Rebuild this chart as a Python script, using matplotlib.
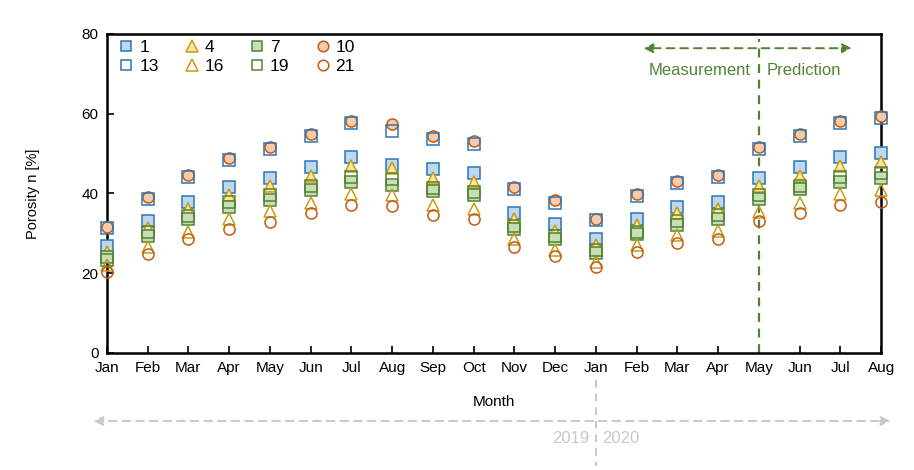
import numpy as np
import matplotlib.pyplot as plt

plt.rcParams['font.family'] = ['Liberation Sans', 'DejaVu Sans']

months = ['Jan', 'Feb', 'Mar', 'Apr', 'May', 'Jun', 'Jul', 'Aug', 'Sep', 'Oct', 'Nov', 'Dec',
          'Jan', 'Feb', 'Mar', 'Apr', 'May', 'Jun', 'Jul', 'Aug']

# porosity per series (label = depth / sample id)
s1 = [26.9, 33.2, 37.9, 41.7, 43.9, 46.7, 49.2, 47.1, 46.1, 45.0, 35.2, 32.3,
      28.6, 33.7, 36.7, 37.9, 43.9, 46.7, 49.2, 50.2]
s4 = [25.4, 31.4, 36.0, 39.6, 41.9, 44.4, 46.9, 46.3, 43.8, 42.9, 33.5, 30.7,
      27.1, 32.1, 35.0, 36.2, 41.9, 44.4, 46.9, 47.9]
s7 = [24.1, 29.3, 33.6, 36.7, 38.3, 40.9, 42.9, 42.1, 40.7, 39.6, 31.0, 28.6,
      25.0, 29.7, 32.1, 33.5, 38.7, 41.0, 42.9, 43.9]
s10 = [31.6, 39.1, 44.7, 49.0, 51.7, 55.0, 58.1, 57.4, 54.5, 53.1, 41.5, 38.3,
       33.7, 39.8, 43.1, 44.6, 51.7, 55.0, 58.1, 59.5]
s13 = [31.4, 38.7, 44.2, 48.4, 51.1, 54.5, 57.6, 55.7, 53.6, 52.4, 41.1, 37.7,
       33.3, 39.3, 42.7, 44.2, 51.1, 54.5, 57.6, 58.8]
s16 = [22.0, 26.6, 30.4, 33.7, 35.7, 37.7, 39.8, 39.6, 37.1, 36.2, 28.5, 25.8,
       22.9, 27.1, 29.6, 30.6, 35.4, 37.7, 39.8, 40.9]
s19 = [23.3, 30.3, 34.4, 37.9, 39.6, 41.9, 44.2, 43.5, 41.3, 40.4, 31.8, 29.2,
       25.8, 30.4, 33.2, 34.6, 39.7, 41.9, 44.2, 45.2]
s21 = [20.2, 24.8, 28.5, 31.2, 32.9, 35.0, 37.0, 36.8, 34.6, 33.7, 26.5, 24.3,
       21.5, 25.4, 27.5, 28.5, 33.1, 35.0, 37.0, 37.9]

blue, blue_f = '#2E75B6', '#BDD7EE'
gold, gold_f = '#C89B14', '#FFE699'
green, green_f = '#548235', '#C5E0B4'
orange, orange_f = '#C55A11', '#F8CBAD'

series = [
    ('1', s1, 's', blue, blue_f),
    ('4', s4, '^', gold, gold_f),
    ('7', s7, 's', green, green_f),
    ('10', s10, 'o', orange, orange_f),
    ('13', s13, 's', blue, 'none'),
    ('16', s16, '^', gold, 'none'),
    ('19', s19, 's', green, 'none'),
    ('21', s21, 'o', orange, 'none'),
]

fig = plt.figure(figsize=(9.14, 4.70), dpi=100)
ax = fig.add_axes([0.117, 0.249, 0.847, 0.679])

x = np.arange(len(months))
handles = []
for lab, vals, mk, ec, fc in series:
    ms = 8 if mk != '^' else 8.5
    h, = ax.plot(x, vals, linestyle='none', marker=mk, markersize=ms,
                 markeredgecolor=ec, markerfacecolor=fc, markeredgewidth=1.1,
                 label=lab, clip_on=False, zorder=3)
    handles.append(h)

ax.set_xlim(0, 19)
ax.set_ylim(0, 80)
ax.set_yticks([0, 20, 40, 60, 80])
ax.set_xticks(x)
ax.set_xticklabels(months)
ax.tick_params(direction='in', length=5, width=1.2, labelsize=11, pad=6)
for sp in ax.spines.values():
    sp.set_linewidth(1.8)
ax.set_ylabel('Porosity n [%]', fontsize=10.5, labelpad=30)
ax.set_xlabel('Month', fontsize=11, labelpad=14)

# legend rows: 1 4 7 10 / 13 16 19 21 (matplotlib fills column by column)
order = [0, 4, 1, 5, 2, 6, 3, 7]
ax.legend([handles[i] for i in order], [series[i][0] for i in order],
          ncol=4, loc='upper left', frameon=False, fontsize=12.5,
          bbox_to_anchor=(-0.012, 1.03), handletextpad=0.0,
          columnspacing=1.15, labelspacing=0.22, handlelength=1.5,
          markerscale=0.95)

# measurement / prediction split
pred_green = '#548235'
ax.axvline(16, ymin=0, ymax=0.985, color=pred_green, lw=1.6, ls=(0, (4, 3)), zorder=2)
ax.annotate('', xy=(13.1, 76.4), xytext=(16, 76.4),
            arrowprops=dict(arrowstyle='-|>', color=pred_green, lw=1.4, ls=(0, (4, 3)),
                            mutation_scale=14))
ax.annotate('', xy=(18.35, 76.4), xytext=(16, 76.4),
            arrowprops=dict(arrowstyle='-|>', color=pred_green, lw=1.4, ls=(0, (4, 3)),
                            mutation_scale=14))
ax.text(15.8, 70.8, 'Measurement', color=pred_green, fontsize=12, ha='right', va='center')
ax.text(16.2, 70.8, 'Prediction', color=pred_green, fontsize=12, ha='left', va='center')

# year split below the axis
grey = '#C8C8C8'
tr = ax.get_xaxis_transform()
ax.annotate('', xy=(-0.4, -0.213), xytext=(12, -0.213), xycoords=tr, textcoords=tr,
            arrowprops=dict(arrowstyle='-|>', color=grey, lw=1.4, ls=(0, (4, 3)),
                            mutation_scale=14))
ax.annotate('', xy=(19.3, -0.213), xytext=(12, -0.213), xycoords=tr, textcoords=tr,
            arrowprops=dict(arrowstyle='-|>', color=grey, lw=1.4, ls=(0, (4, 3)),
                            mutation_scale=14))
ax.plot([12, 12], [-0.085, -0.355], transform=tr, color=grey, lw=1.4,
        ls=(0, (4, 3)), clip_on=False)
ax.text(11.85, -0.268, '2019', transform=tr, color=grey, fontsize=12, ha='right', va='center')
ax.text(12.15, -0.268, '2020', transform=tr, color=grey, fontsize=12, ha='left', va='center')

fig.savefig('out.png', dpi=100)
